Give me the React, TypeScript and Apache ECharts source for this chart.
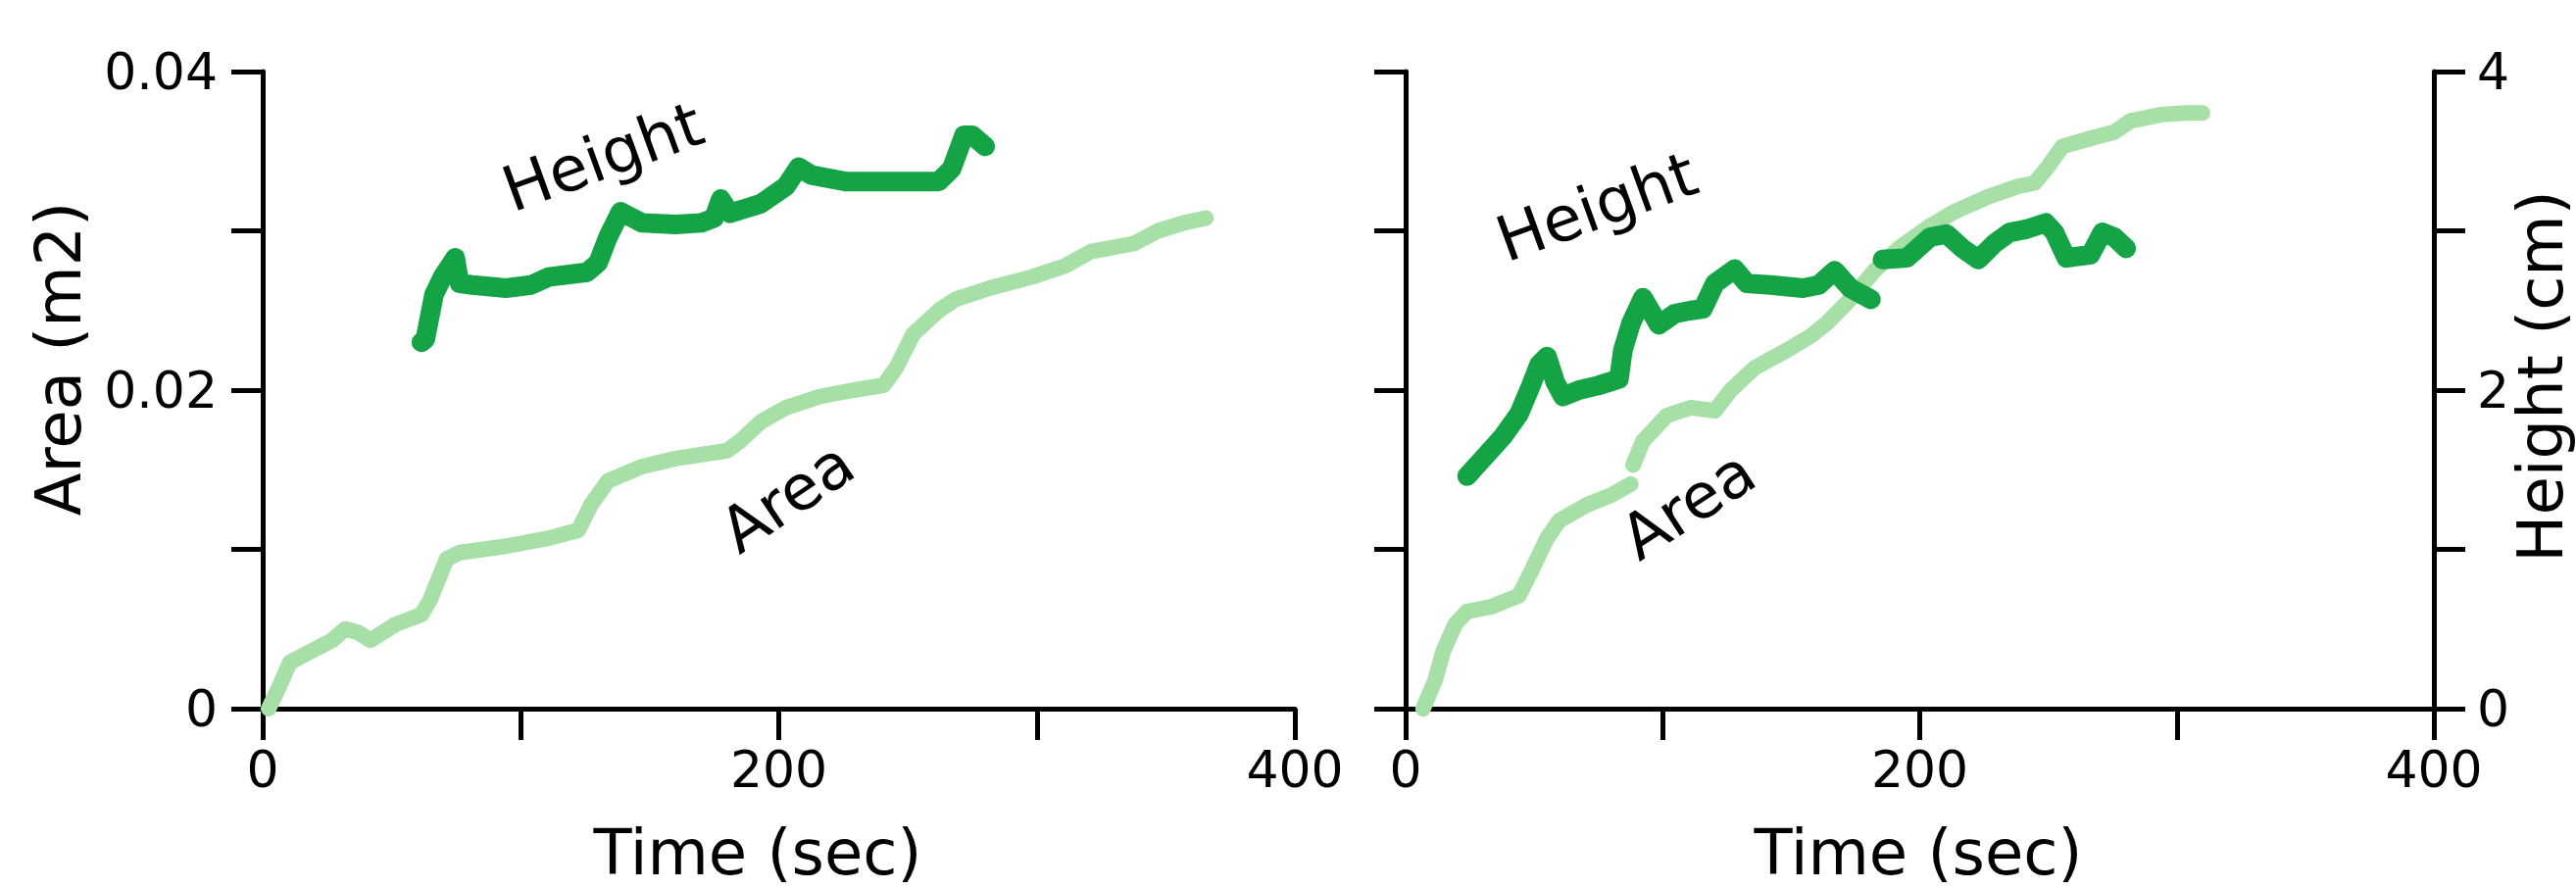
import React, { useEffect, useRef } from "react";
import * as echarts from "echarts";

// ---- Data (time in sec, area in m2, height in cm) ----
const X_LABELS = ["0", "", "200", "", "400"];
const AREA_LABELS = ["0", "", "0.02", "", "0.04"];
const HEIGHT_LABELS = ["0", "", "2", "", "4"];

const LEFT_AREA_T = [2.3, 5.6, 10.5, 18.7, 27, 31.9, 36.8, 41.7, 46.7, 51.6, 61.5, 64.8, 71.3, 76.3, 94.3, 110.8, 122.3, 127.2, 133.8, 147, 160, 180, 185, 193, 202.8, 216, 229, 240.6, 245.5, 252, 262, 268.5, 281.7, 298, 311, 321, 337.6, 347, 357, 365.5];
const LEFT_AREA_V = [0, 0.0011, 0.0029, 0.0036, 0.0043, 0.005, 0.0048, 0.0043, 0.0048, 0.0053, 0.0059, 0.0068, 0.0094, 0.0098, 0.0102, 0.0107, 0.0112, 0.0128, 0.0143, 0.0152, 0.0157, 0.0162, 0.0168, 0.018, 0.0189, 0.0196, 0.02, 0.0203, 0.0214, 0.0235, 0.025, 0.0257, 0.0264, 0.0271, 0.0278, 0.0287, 0.0292, 0.03, 0.0305, 0.0308];

const LEFT_HEIGHT_T = [61.5, 63, 66.4, 69.7, 74.6, 76.3, 81.2, 94.3, 104, 110.8, 125.7, 130, 133.8, 138.7, 147, 160, 170, 174.9, 177.5, 181, 193, 202.8, 207.7, 212.7, 225.8, 242, 262, 267, 271.8, 275, 280];
const LEFT_HEIGHT_V = [2.3, 2.32, 2.6, 2.71, 2.83, 2.67, 2.66, 2.64, 2.66, 2.71, 2.74, 2.8, 2.96, 3.12, 3.05, 3.04, 3.05, 3.08, 3.2, 3.11, 3.17, 3.28, 3.4, 3.35, 3.31, 3.31, 3.31, 3.39, 3.6, 3.6, 3.53];

const RIGHT_AREA_T = [6.8, 11.5, 14.6, 19.3, 23.9, 33.3, 44.1, 48.8, 55, 59.7, 70.6, 79.9, 87.6, 88, 88.5, 92.3, 101.6, 111, 120.3, 126.5, 135.8, 148.3, 157.6, 163.8, 173, 182.4, 191.8, 204, 213.5, 226, 238.4, 244.6, 249.3, 255.5, 266.4, 275.7, 282, 294, 303.7, 310];
const RIGHT_AREA_V: (number | string)[] = [0, 0.0018, 0.0036, 0.0053, 0.0061, 0.0064, 0.0071, 0.0086, 0.0107, 0.0118, 0.0128, 0.0134, 0.0141, "-", 0.0153, 0.0168, 0.0184, 0.0189, 0.0187, 0.02, 0.0214, 0.0225, 0.0234, 0.0242, 0.0257, 0.0275, 0.0289, 0.0303, 0.0312, 0.0321, 0.0328, 0.033, 0.0339, 0.0353, 0.0358, 0.0362, 0.0369, 0.0373, 0.0374, 0.0374];

const RIGHT_HEIGHT_T = [23.9, 30.1, 37.9, 44.1, 48.8, 51.9, 55, 58.2, 61.2, 67.4, 75.2, 83, 84.5, 87.7, 92.3, 98.5, 104.7, 111, 115.6, 120.3, 128, 132.7, 142, 154.5, 160.7, 166.9, 173, 181, 183, 185.5, 195, 204, 210.4, 216.6, 222.8, 229, 235, 241.5, 249, 252.4, 257, 266.4, 271, 275.7, 280.3];
const RIGHT_HEIGHT_V: (number | string)[] = [1.46, 1.57, 1.71, 1.85, 2.03, 2.16, 2.21, 2.05, 1.96, 2.0, 2.03, 2.07, 2.25, 2.42, 2.58, 2.41, 2.48, 2.5, 2.51, 2.67, 2.76, 2.67, 2.66, 2.64, 2.66, 2.75, 2.64, 2.57, "-", 2.82, 2.83, 2.96, 2.98, 2.89, 2.82, 2.92, 2.99, 3.01, 3.05, 2.99, 2.83, 2.85, 2.99, 2.96, 2.89];

const zip = (t: number[], v: (number | string)[]) => t.map((x, i) => [x, v[i]]);

const DARK = "#14a446";
const LIGHT = "#a7e0a7";
const FONT = "DejaVu Sans";

export default function App() {
  const ref = useRef<HTMLDivElement>(null);
  useEffect(() => {
    if (!ref.current) return;
    const chart = echarts.init(ref.current, undefined, { renderer: "svg" });
    const axisLine = { show: true, onZero: false, lineStyle: { color: "#000", width: 5 } };
    const axisTick = { show: true, length: 32, lineStyle: { color: "#000", width: 5 } };
    const labelBase = { color: "#000", fontSize: 52, fontFamily: FONT };
    const xAxisDef = (gridIndex: number) => ({
      type: "value",
      gridIndex,
      min: 0,
      max: 400,
      interval: 100,
      axisLine,
      axisTick,
      splitLine: { show: false },
      axisLabel: { ...labelBase, margin: 36, formatter: (_v: number, i: number) => X_LABELS[i] ?? "" },
    });
    const lineSeries = (xi: number, yi: number, data: any[], color: string, width: number) => ({
      type: "line",
      xAxisIndex: xi,
      yAxisIndex: yi,
      data,
      showSymbol: false,
      symbol: "none",
      connectNulls: false,
      lineStyle: { color, width, cap: "round", join: "round" },
      silent: true,
    });
    const text = (t: string, x: number, y: number, deg: number) => ({
      type: "text",
      x,
      y,
      rotation: (deg * Math.PI) / 180,
      style: {
        text: t,
        fontSize: 64,
        fontFamily: FONT,
        fill: "#000",
        align: "center",
        verticalAlign: "middle",
      },
    });
    chart.setOption({
      animation: false,
      backgroundColor: "#fff",
      grid: [
        { left: 268, right: 1307, top: 73, bottom: 184, containLabel: false },
        { left: 1434, right: 145, top: 73, bottom: 184, containLabel: false },
      ],
      xAxis: [xAxisDef(0), xAxisDef(1)],
      yAxis: [
        {
          type: "value", gridIndex: 0, min: 0, max: 0.04, interval: 0.01, position: "left",
          axisLine, axisTick, splitLine: { show: false },
          axisLabel: { ...labelBase, margin: 46, formatter: (_v: number, i: number) => AREA_LABELS[i] ?? "" },
        },
        { type: "value", gridIndex: 0, min: 0, max: 4, interval: 1, show: false },
        {
          type: "value", gridIndex: 1, min: 0, max: 0.04, interval: 0.01, position: "left",
          axisLine, axisTick, splitLine: { show: false }, axisLabel: { show: false },
        },
        {
          type: "value", gridIndex: 1, min: 0, max: 4, interval: 1, position: "right",
          axisLine, axisTick, splitLine: { show: false },
          axisLabel: { ...labelBase, margin: 44, formatter: (_v: number, i: number) => HEIGHT_LABELS[i] ?? "" },
        },
      ],
      series: [
        lineSeries(0, 0, zip(LEFT_AREA_T, LEFT_AREA_V), LIGHT, 16),
        lineSeries(0, 1, zip(LEFT_HEIGHT_T, LEFT_HEIGHT_V), DARK, 20),
        lineSeries(1, 2, zip(RIGHT_AREA_T, RIGHT_AREA_V), LIGHT, 16),
        lineSeries(1, 3, zip(RIGHT_HEIGHT_T, RIGHT_HEIGHT_V), DARK, 20),
      ],
      graphic: [
        text("Area (m2)", 60, 366, 90),
        text("Time (sec)", 773, 870, 0),
        text("Time (sec)", 1957, 870, 0),
        text("Height (cm)", 2592, 384, 90),
        text("Height", 615, 160, 20),
        text("Area", 803, 507, 34),
        text("Height", 1629, 211, 20),
        text("Area", 1722, 515, 33),
      ],
    });
    return () => chart.dispose();
  }, []);
  return (
    <div
      ref={ref}
      style={{ position: "fixed", left: 0, top: 0, width: 2628, height: 907, background: "#fff" }}
    />
  );
}
